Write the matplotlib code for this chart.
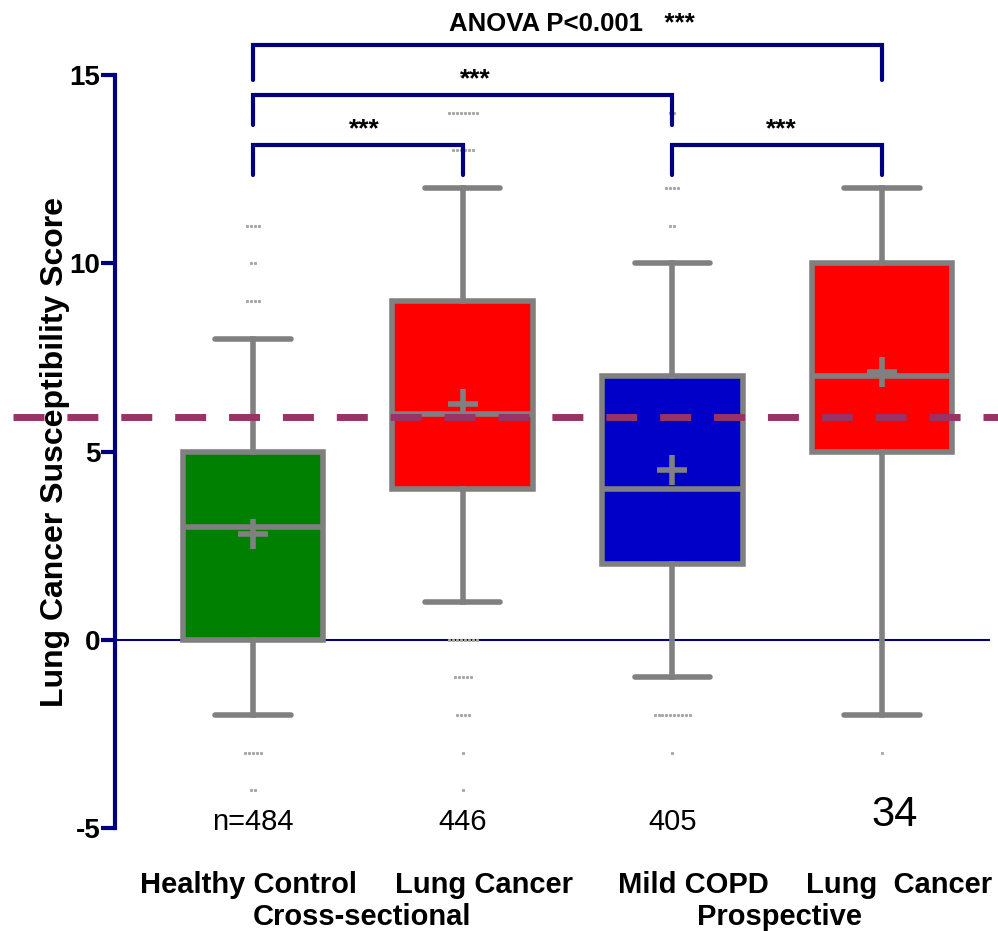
import matplotlib
matplotlib.use("Agg")
import matplotlib.pyplot as plt

plt.rcParams['font.family'] = ['Liberation Sans', 'DejaVu Sans']
plt.rcParams['axes.unicode_minus'] = False

# box statistics
groups = ["Healthy Control", "Lung Cancer", "Mild COPD", "Lung  Cancer"]
n_labels = ["n=484", "446", "405", "34"]
q1 = [0, 4, 2, 5]
medians = [3, 6, 4, 7]
q3 = [5, 9, 7, 10]
whis_lo = [-2, 1, -1, -2]
whis_hi = [8, 12, 10, 12]
means = [2.8, 6.25, 4.5, 7.1]
box_colors = ["#008000", "#FF0000", "#0000C8", "#FF0000"]

# outliers: (value, count) per group
outliers = [
    [(11, 4), (10, 2), (9, 4), (-3, 5), (-4, 2)],
    [(15, 2), (14, 8), (13, 6), (0, 8), (-1, 5), (-2, 4), (-3, 1), (-4, 1)],
    [(14, 2), (12, 4), (11, 2), (-2, 10), (-3, 1)],
    [(-3, 1)],
]
cutoff = 5.92

navy = "#000080"
grey = "#808080"

fig = plt.figure(figsize=(9.98, 9.31), dpi=100)
ax = fig.add_axes([0.1152, 0.1106, 0.877, 0.8088])

stats = []
for i in range(4):
    stats.append(dict(q1=q1[i], med=medians[i], q3=q3[i], whislo=whis_lo[i],
                      whishi=whis_hi[i], mean=means[i], fliers=[]))

bp = ax.bxp(stats, positions=[1, 2, 3, 4], widths=0.67, patch_artist=True,
            showmeans=True, showfliers=False,
            boxprops=dict(edgecolor=grey, linewidth=4),
            whiskerprops=dict(color=grey, linewidth=4),
            capprops=dict(color=grey, linewidth=4, solid_capstyle='round'),
            medianprops=dict(color=grey, linewidth=4),
            meanprops=dict(marker='+', markeredgecolor=grey, markersize=22,
                           markeredgewidth=4),
            capwidths=0.36, zorder=3)
for patch, c in zip(bp['boxes'], box_colors):
    patch.set_facecolor(c)

# outlier dots
for i, rows in enumerate(outliers):
    for val, cnt in rows:
        xs = [i + 1 + (k - (cnt - 1) / 2) * 0.019 for k in range(cnt)]
        ax.plot(xs, [val] * cnt, linestyle='none', marker='s', markersize=1.2,
                color="#a8a8a8", zorder=2)

ax.axhline(0, color=navy, linewidth=1.5, zorder=1)
# cutoff line runs across the whole figure, over the y label
ax.plot([-0.145, 4.56], [cutoff, cutoff], color="#993366", linewidth=5,
        dashes=(4.46, 3.3), zorder=5, clip_on=False)

ax.set_xlim(0.342, 4.515)
ax.set_ylim(-5, 15)
ax.set_yticks([-5, 0, 5, 10, 15])
ax.set_xticks([])
for s in ['top', 'right', 'bottom']:
    ax.spines[s].set_visible(False)
ax.spines['left'].set_color(navy)
ax.spines['left'].set_linewidth(3)
ax.tick_params(axis='y', direction='out', length=10, width=3, color=navy,
               labelsize=20, pad=0.5)
for lab in ax.get_yticklabels():
    lab.set_fontweight('bold')
ax.set_ylabel("Lung Cancer Susceptibility Score", fontsize=23,
              fontweight='bold', labelpad=0)
ax.yaxis.label.set_zorder(1)

# significance brackets
brackets = [(1, 2, 13.15, 12.35), (1, 3, 14.47, 13.68), (1, 4, 15.8, 14.87),
            (3, 4, 13.15, 12.35)]
for x0, x1, top, bot in brackets:
    ax.plot([x0, x0, x1, x1], [bot, top, top, bot], color=navy, linewidth=3,
            clip_on=False, solid_capstyle='round', solid_joinstyle='miter')
ax.text(1.53, 13.25, "***", ha='center', va='bottom', fontsize=19, fontweight='bold')
ax.text(2.06, 14.57, "***", ha='center', va='bottom', fontsize=19, fontweight='bold')
ax.text(3.52, 13.25, "***", ha='center', va='bottom', fontsize=19, fontweight='bold')
ax.text(2.52, 16.05, "ANOVA P<0.001   ***", ha='center', va='bottom',
        fontsize=18.5, fontweight='bold')

# sample sizes
n_x = [1, 2, 3, 4.06]
for i, lab in enumerate(n_labels):
    ax.text(n_x[i], -4.83 if i < 3 else -4.65, lab, ha='center', va='center',
            fontsize=30 if i == 3 else 21)

# group labels
label_x = [0.98, 2.1, 3.1, 4.08]
for x, g in zip(label_x, groups):
    ax.text(x, -6.5, g, ha='center', va='center', fontsize=21,
            fontweight='bold', clip_on=False)
ax.text(1.52, -7.35, "Cross-sectional", ha='center', va='center', fontsize=21,
        fontweight='bold')
ax.text(3.51, -7.35, "Prospective", ha='center', va='center', fontsize=21,
        fontweight='bold')

fig.savefig("out.png", dpi=100)
